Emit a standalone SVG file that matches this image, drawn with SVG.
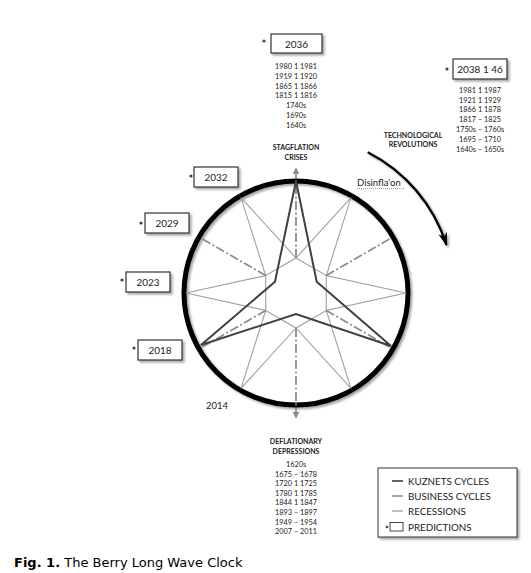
<svg xmlns="http://www.w3.org/2000/svg" width="531" height="573" viewBox="0 0 531 573">
<defs>
<style>
.t{font-family:Lato,"Liberation Sans",sans-serif;fill:#222;text-anchor:middle}
.yr{font-size:7.3px}
.hd{font-size:7px;font-weight:bold}
.bx{fill:#fff;stroke:#333;stroke-width:1.2}
.bt{font-size:10px}
.dot{fill:#444}
.lg{font-family:Lato,"Liberation Sans",sans-serif;font-size:9.8px;fill:#222}
.biz{fill:none;stroke:#a0a0a0;stroke-width:1.1;stroke-linejoin:miter}
.kuz{fill:none;stroke:#404040;stroke-width:2}
.rec{fill:none;stroke:#8c8c8c;stroke-width:1.8;stroke-dasharray:9 2.5 2 2.5}
</style>
<filter id="sh" x="-20%" y="-20%" width="150%" height="160%">
<feDropShadow dx="2" dy="2" stdDeviation="1.2" flood-color="#000" flood-opacity="0.35"/>
</filter>
<marker id="ga" viewBox="0 0 10 10" refX="9" refY="5" markerWidth="7" markerHeight="7" markerUnits="userSpaceOnUse" orient="auto">
<path d="M0,0 L10,5 L0,10 Z" fill="#8c8c8c"/>
</marker>
<marker id="ba" viewBox="0 0 12 8" refX="11" refY="4" markerWidth="14" markerHeight="9" markerUnits="userSpaceOnUse" orient="auto">
<path d="M0,0 L12,4 L0,8 L3,4 Z" fill="#000"/>
</marker>
</defs>
<rect width="531" height="573" fill="#fff"/>

<g id="clock">
<circle cx="296" cy="293" r="112" fill="none" stroke="#000" stroke-width="5" filter="url(#sh)"/>
</g>

<g id="connectors">
<g id="business-cycles">
<path class="biz" d="M241,197.7 L296,258 L351,197.7 L326.3,275.5 L406,293 L326.3,310.5 L351,388.3 L296,328 L241,388.3 L265.7,310.5 L186,293 L265.7,275.5 Z"/>
<path class="biz" d="M296,258 L326.3,275.5 L326.3,310.5 L296,328 L265.7,310.5 L265.7,275.5 Z"/>
</g>
<g id="recessions">
<line class="rec" x1="296" y1="258" x2="296" y2="168" marker-end="url(#ga)"/>
<line class="rec" x1="296" y1="328" x2="296" y2="418" marker-end="url(#ga)"/>
<line class="rec" x1="326.3" y1="275.5" x2="391.3" y2="238"/>
<line class="rec" x1="326.3" y1="310.5" x2="391.3" y2="348"/>
<line class="rec" x1="265.7" y1="310.5" x2="200.7" y2="348"/>
<line class="rec" x1="265.7" y1="275.5" x2="200.7" y2="238"/>
</g>
<g id="kuznets">
<path class="kuz" d="M296,181 L316.7,281.7 L391,346 L296,314 L201,345 L275,281.7 Z"/>
</g>
<g id="tech-arrow">
<path d="M367.7,152.2 A158,158 0 0 1 446.5,245" fill="none" stroke="#000" stroke-width="2.4" marker-end="url(#ba)" filter="url(#sh)"/>
</g>
</g>

<g id="node-2036">
<circle class="dot" cx="264" cy="41" r="1.6"/>
<rect class="bx" x="271" y="34" width="51" height="19" filter="url(#sh)"/>
<text class="t bt" x="296.5" y="47.5">2036</text>
<text class="t yr" x="296" y="69">1980 1 1981</text>
<text class="t yr" x="296" y="78.8">1919 1 1920</text>
<text class="t yr" x="296" y="88.6">1865 1 1866</text>
<text class="t yr" x="296" y="98.4">1815 1 1816</text>
<text class="t yr" x="296" y="108.2">1740s</text>
<text class="t yr" x="296" y="118">1690s</text>
<text class="t yr" x="296" y="127.8">1640s</text>
<text class="t hd" x="296" y="150">STAGFLATION</text>
<text class="t hd" x="296" y="160">CRISES</text>
</g>

<g id="node-2038">
<circle class="dot" cx="447" cy="69" r="1.6"/>
<rect class="bx" x="453" y="59" width="54" height="20" filter="url(#sh)"/>
<text class="t bt" x="480" y="73">2038 1 46</text>
<text class="t yr" x="480" y="92.8">1981 1 1987</text>
<text class="t yr" x="480" y="102.6">1921 1 1929</text>
<text class="t yr" x="480" y="112.4">1866 1 1878</text>
<text class="t yr" x="480" y="122.2">1817 – 1825</text>
<text class="t yr" x="480" y="132">1750s – 1760s</text>
<text class="t yr" x="480" y="141.8">1695 – 1710</text>
<text class="t yr" x="480" y="151.6">1640s – 1650s</text>
<text class="t hd" x="413" y="137.5">TECHNOLOGICAL</text>
<text class="t hd" x="413" y="147">REVOLUTIONS</text>
</g>

<g id="disinflation">
<text x="357" y="186" style="font-family:Lato,'Liberation Sans',sans-serif;font-size:9.5px;fill:#222">Disinfla'on</text>
<line x1="357" y1="188.5" x2="405" y2="188.5" stroke="#999" stroke-width="1" stroke-dasharray="1 1"/>
</g>

<g id="node-2032">
<circle class="dot" cx="191" cy="176" r="1.6"/>
<rect class="bx" x="194" y="167" width="44" height="20" filter="url(#sh)"/>
<text class="t bt" x="216" y="180.5">2032</text>
</g>
<g id="node-2029">
<circle class="dot" cx="141" cy="223" r="1.6"/>
<rect class="bx" x="145" y="213" width="44" height="20" filter="url(#sh)"/>
<text class="t bt" x="167" y="226.5">2029</text>
</g>
<g id="node-2023">
<circle class="dot" cx="122" cy="280" r="1.6"/>
<rect class="bx" x="126" y="272" width="44" height="20" filter="url(#sh)"/>
<text class="t bt" x="148" y="285.5">2023</text>
</g>
<g id="node-2018">
<circle class="dot" cx="134" cy="348" r="1.6"/>
<rect class="bx" x="138" y="340" width="44" height="20" filter="url(#sh)"/>
<text class="t bt" x="160" y="353.5">2018</text>
</g>
<g id="node-2014">
<text class="t" x="217" y="409" style="font-size:9.5px">2014</text>
</g>

<g id="node-depressions">
<text class="t hd" x="296" y="444">DEFLATIONARY</text>
<text class="t hd" x="296" y="454">DEPRESSIONS</text>
<text class="t yr" x="296" y="467">1620s</text>
<text class="t yr" x="296" y="476.6">1675 – 1678</text>
<text class="t yr" x="296" y="486.2">1720 1 1725</text>
<text class="t yr" x="296" y="495.8">1780 1 1785</text>
<text class="t yr" x="296" y="505.4">1844 1 1847</text>
<text class="t yr" x="296" y="515">1893 – 1897</text>
<text class="t yr" x="296" y="524.6">1949 – 1954</text>
<text class="t yr" x="296" y="534.2">2007 – 2011</text>
</g>

<g id="legend">
<rect x="378" y="468" width="139" height="69" fill="#fff" stroke="#333" stroke-width="1" filter="url(#sh)"/>
<line x1="392" y1="481" x2="403" y2="481" stroke="#333" stroke-width="1.5"/>
<text class="lg" x="408" y="484.5">KUZNETS CYCLES</text>
<line x1="392" y1="496" x2="403" y2="496" stroke="#888" stroke-width="1.5"/>
<text class="lg" x="408" y="499.5">BUSINESS CYCLES</text>
<line x1="392" y1="511" x2="403" y2="511" stroke="#aaa" stroke-width="1.5"/>
<text class="lg" x="408" y="514.5">RECESSIONS</text>
<circle class="dot" cx="387" cy="527" r="1.3"/>
<rect x="390" y="522.5" width="13" height="8.5" fill="#fff" stroke="#333" stroke-width="0.9"/>
<text class="lg" x="408" y="530.5">PREDICTIONS</text>
</g>

<g id="caption">
<text x="14" y="566.5" style="font-family:'DejaVu Sans',Verdana,sans-serif;font-size:13px;fill:#000"><tspan font-weight="bold">Fig. 1.</tspan> The Berry Long Wave Clock</text>
</g>
</svg>
